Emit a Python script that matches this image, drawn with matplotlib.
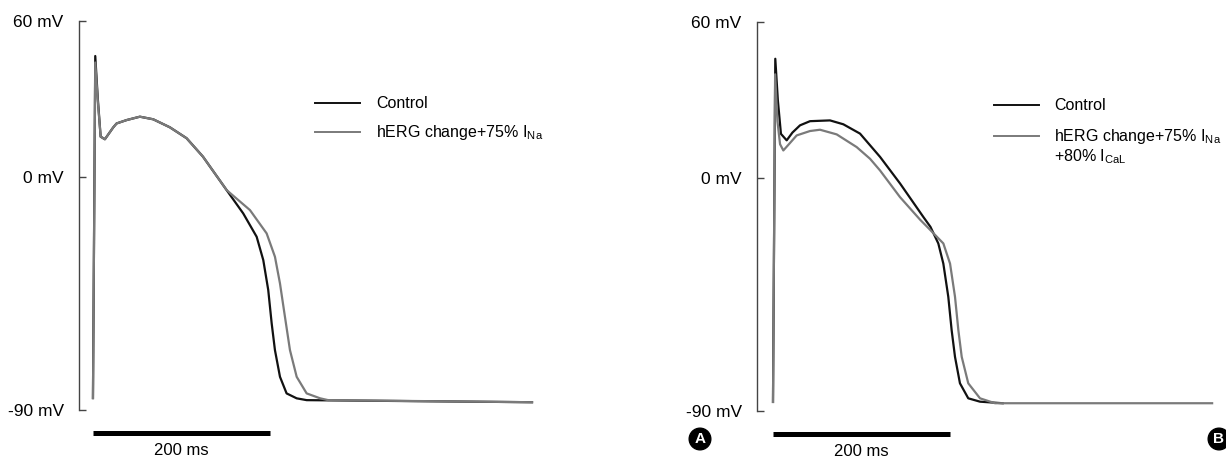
import matplotlib
matplotlib.use("Agg")
import matplotlib.pyplot as plt

plt.rcParams['font.family'] = ['Liberation Sans', 'DejaVu Sans']
plt.rcParams['mathtext.fontset'] = 'custom'
plt.rcParams['mathtext.rm'] = 'Liberation Sans'

# panel A traces (time in ms, voltage in mV)
t_ctrl_a = [0, 0.5, 2.6, 5.5, 8.7, 13.5, 23, 26.8, 38.1, 53.1, 68.2, 87.1, 106, 124.5, 151.3,
            170.1, 185.3, 192.8, 198.4, 202.3, 206, 211.7, 219.2, 230.6, 241.9, 497]
v_ctrl_a = [-85.4, -60, 46.5, 30, 15.4, 14.4, 19, 20.5, 21.8, 23.1, 22.1, 19.0, 14.8, 7.7, -5.2,
            -14.2, -23.2, -32.2, -43.7, -56.6, -66.9, -77.2, -83.6, -85.5, -86.2, -87]
t_herg_a = [0, 0.5, 2.6, 5.5, 8.7, 13.5, 23, 26.8, 38.1, 53.1, 68.2, 87.1, 106, 124.5, 151.3,
            177.7, 196.6, 206, 211.7, 217.3, 223, 230.6, 241.9, 257.2, 266.3, 497]
v_herg_a = [-85.4, -60, 44, 29, 15.4, 14.4, 19, 20.5, 21.8, 23.1, 22.1, 19.0, 14.8, 7.7, -5.2,
            -12.9, -21.9, -30.9, -41.2, -54, -66.9, -77.2, -83.6, -85.5, -86.2, -87]

# panel B traces
t_ctrl_b = [0, 0.5, 2.6, 5.5, 9, 15.5, 22, 30.6, 41.9, 64.5, 79.6, 98.5, 121.2, 143.9, 170.2,
            178.2, 187.1, 192.8, 198.4, 202.2, 206, 211.6, 221, 234.3, 260]
v_ctrl_b = [-86.5, -60, 46, 30, 17, 14.5, 17.5, 20.3, 21.9, 22.2, 20.7, 17.1, 8.1, -2.2, -15.1,
            -18.9, -25.3, -33.1, -45.9, -58.8, -69.1, -79.3, -85.1, -86.4, -87]
t_herg_b = [0, 0.5, 2.4, 5, 8, 11.7, 18, 26.8, 41.9, 53.2, 72.1, 94.7, 109.8, 121.1, 143.7,
            166.4, 177.7, 192.8, 200.4, 206, 209.8, 213.6, 221, 234.3, 251.3, 497]
v_herg_b = [-86.5, -60, 40, 22, 13, 10.6, 13, 16.4, 18.1, 18.6, 16.8, 11.9, 7.4, 2.9, -7.4,
            -16.1, -20, -25.3, -33.1, -45.9, -58.8, -69.1, -79.3, -85.1, -87, -87]

yticks = [60, 0, -90]
ytick_labels = ['60 mV', '0 mV', '-90 mV']
ctrl_label = 'Control'
herg_label_a = r'hERG change+75% I$_{\rm Na}$'
herg_label_b = r'hERG change+75% I$_{\rm Na}$'
herg_label_b2 = r'+80% I$_{\rm CaL}$'

W, H = 1226, 458
fig = plt.figure(figsize=(W / 100, H / 100), dpi=100)


def fx(px):
    return px / W


def fy(py):
    return 1 - py / H


def setup(ax):
    for s in ['top', 'right', 'bottom']:
        ax.spines[s].set_visible(False)
    ax.spines['left'].set_color('#444444')
    ax.spines['left'].set_linewidth(1.0)
    ax.set_ylim(-90, 60)
    ax.set_yticks(yticks)
    ax.set_yticklabels(ytick_labels, fontsize=12.5)
    ax.tick_params(axis='y', direction='in', length=5, width=1, color='#444444', pad=11)
    ax.set_xticks([])
    # scale bar
    ax.plot([0, 200], [-98.7, -98.7], color='black', lw=3.6, solid_capstyle='butt', clip_on=False)
    ax.text(100, -105.5, '200 ms', ha='center', va='center', fontsize=12, clip_on=False)


axA = fig.add_axes([fx(79), fy(410), fx(543.5) - fx(79), fy(21) - fy(410)])
axA.set_xlim(-15.8, 510)
setup(axA)
axA.plot(t_ctrl_a, v_ctrl_a, color='#111111', lw=1.6)
axA.plot(t_herg_a, v_herg_a, color='#7a7a7a', lw=1.6)

axB = fig.add_axes([fx(757), fy(411), fx(1223.6) - fx(757), fy(22.5) - fy(411)])
axB.set_xlim(-18.1, 510)
setup(axB)
axB.plot(t_ctrl_b, v_ctrl_b, color='#111111', lw=1.6)
axB.plot(t_herg_b, v_herg_b, color='#7a7a7a', lw=1.6)

# legends drawn by hand
fig.add_artist(plt.Line2D([fx(315), fx(360)], [fy(103), fy(103)], color='#111111', lw=1.4))
fig.add_artist(plt.Line2D([fx(315), fx(360)], [fy(132), fy(132)], color='#7a7a7a', lw=1.4))
fig.text(fx(376), fy(103), ctrl_label, fontsize=11.5, va='center')
fig.text(fx(376), fy(133), herg_label_a, fontsize=11.5, va='center')

fig.add_artist(plt.Line2D([fx(994), fx(1039)], [fy(105), fy(105)], color='#111111', lw=1.4))
fig.add_artist(plt.Line2D([fx(994), fx(1039)], [fy(135.5), fy(135.5)], color='#7a7a7a', lw=1.4))
fig.text(fx(1054), fy(105), ctrl_label, fontsize=11.5, va='center')
fig.text(fx(1054), fy(136), herg_label_b, fontsize=11.5, va='center')
fig.text(fx(1054), fy(157), herg_label_b2, fontsize=11.5, va='center')

# panel badges
fig.text(fx(700), fy(439), 'A', color='white', fontsize=11, fontweight='bold', ha='center', va='center',
         bbox=dict(boxstyle='circle,pad=0.25', fc='black', ec='black'))
fig.text(fx(1219), fy(439), 'B', color='white', fontsize=11, fontweight='bold', ha='center', va='center',
         bbox=dict(boxstyle='circle,pad=0.25', fc='black', ec='black'))

fig.savefig('out.png', dpi=100)
